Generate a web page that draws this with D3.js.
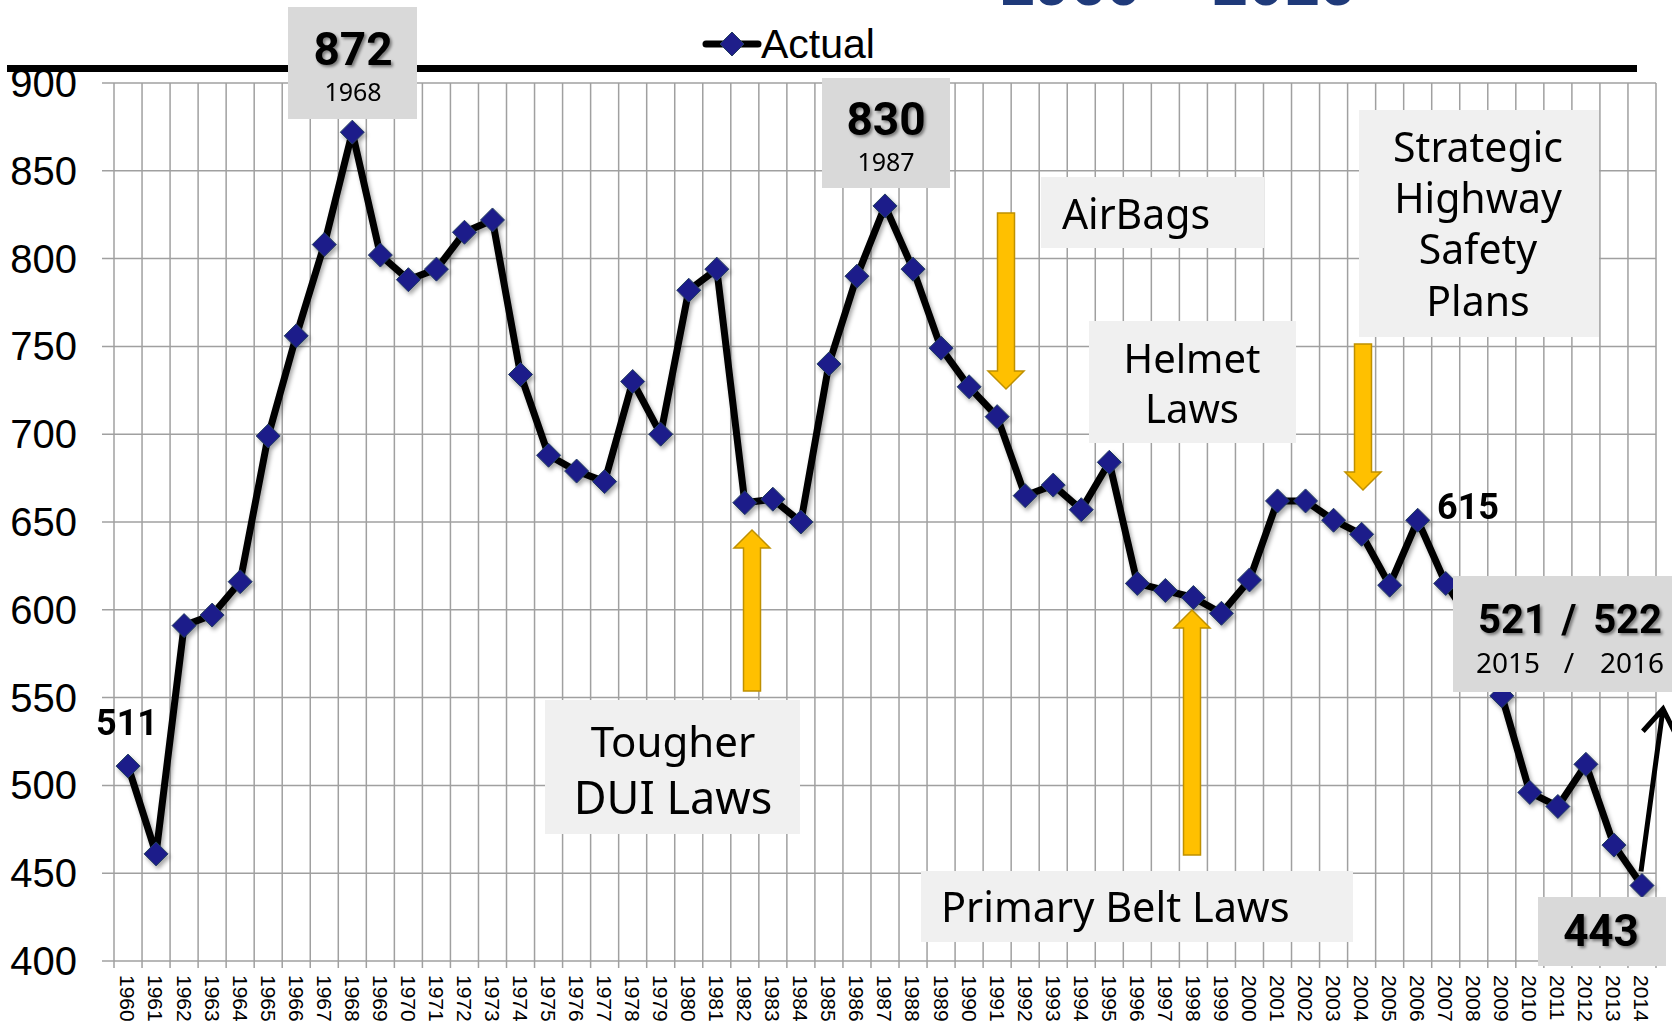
<!DOCTYPE html>
<html>
<head>
<meta charset="utf-8">
<script src="https://cdn.jsdelivr.net/npm/d3@7"></script>
<style>
  body { margin: 0; background: #fff; }
  svg { display: block; }
</style>
</head>
<body>
<div class="chart"></div>
<script>
// data
const years = [1960,1961,1962,1963,1964,1965,1966,1967,1968,1969,
    1970,1971,1972,1973,1974,1975,1976,1977,1978,1979,
    1980,1981,1982,1983,1984,1985,1986,1987,1988,1989,
    1990,1991,1992,1993,1994,1995,1996,1997,1998,1999,
    2000,2001,2002,2003,2004,2005,2006,2007,2008,2009,
    2010,2011,2012,2013,2014];
const actual = [511,461,591,597,616,699,756,808,872,802,
    788,794,815,822,734,688,679,673,730,700,
    782,794,661,663,650,740,790,830,794,749,
    727,710,665,671,657,684,615,611,607,598,
    617,662,662,651,643,614,651,615,591,551,
    496,488,512,466,443];
const yTicks = [400,450,500,550,600,650,700,750,800,850,900];

const width = 1672, height = 1024;
const plot = { left: 114, right: 1656, top: 83, bottom: 961 };

const svg = d3.select('.chart').append('svg')
    .attr('width', width)
    .attr('height', height)
    .attr('viewBox', [0, 0, width, height]);

const defs = svg.append('defs');
defs.append('filter').attr('id', 'shadow')
    .attr('x', '-20%').attr('y', '-20%').attr('width', '140%').attr('height', '140%')
    .append('feDropShadow')
    .attr('dx', 2).attr('dy', 3).attr('stdDeviation', 2)
    .attr('flood-color', '#000').attr('flood-opacity', 0.35);
defs.append('filter').attr('id', 'tshadow')
    .append('feDropShadow')
    .attr('dx', 2).attr('dy', 2).attr('stdDeviation', 1.5)
    .attr('flood-color', '#000').attr('flood-opacity', 0.45);

const x = d3.scaleBand()
    .domain(years)
    .range([plot.left, plot.right])
    .padding(0);

const y = d3.scaleLinear()
    .domain([400, 900])
    .range([plot.bottom, plot.top]);

const cx = d => x(d) + x.bandwidth() / 2;

// title (mostly cut off at the top of the picture)
svg.append('text')
    .attr('x', 1177).attr('y', 5)
    .attr('text-anchor', 'middle')
    .style('font', 'bold 64px "Liberation Sans", Arial, sans-serif')
    .attr('fill', '#1F3A7A')
    .text('1960 – 2016');

// grid
const grid = svg.append('g').attr('stroke', '#a0a0a0').attr('stroke-width', 1.5);

grid.selectAll('.hgrid')
    .data(yTicks)
    .join('line')
    .attr('x1', plot.left - 12)
    .attr('x2', plot.right)
    .attr('y1', d => y(d))
    .attr('y2', d => y(d));

grid.selectAll('.vgrid')
    .data(years.concat(['end']))
    .join('line')
    .attr('x1', d => d === 'end' ? plot.right : x(d))
    .attr('x2', d => d === 'end' ? plot.right : x(d))
    .attr('y1', plot.top)
    .attr('y2', plot.bottom + 7);

// y labels
svg.append('g')
    .selectAll('text')
    .data(yTicks)
    .join('text')
    .attr('x', 77)
    .attr('y', d => y(d) + 14)
    .attr('text-anchor', 'end')
    .style('font', '40px "Liberation Sans", Arial, sans-serif')
    .attr('fill', '#000')
    .text(d => d);

// x labels, rotated down
svg.append('g')
    .selectAll('text')
    .data(years)
    .join('text')
    .attr('transform', d => `translate(${cx(d)},975) rotate(90)`)
    .attr('dy', '0.36em')
    .style('font', '21px "Liberation Sans", Arial, sans-serif')
    .attr('fill', '#000')
    .text(d => d);

// legend + heavy rule
svg.append('line')
    .attr('x1', 7).attr('x2', 1637)
    .attr('y1', 68.5).attr('y2', 68.5)
    .attr('stroke', '#000').attr('stroke-width', 7);

const diamond = 'M0,-12L12,0L0,12L-12,0Z';

const legend = svg.append('g');
legend.append('line')
    .attr('x1', 706).attr('x2', 758)
    .attr('y1', 44).attr('y2', 44)
    .attr('stroke', '#000').attr('stroke-width', 7)
    .attr('stroke-linecap', 'round');
legend.append('path')
    .attr('d', diamond)
    .attr('transform', 'translate(732,44)')
    .attr('fill', '#1F1E8A').attr('stroke', '#243F60');
legend.append('text')
    .attr('x', 761).attr('y', 58)
    .style('font', '41px "Liberation Sans", Arial, sans-serif')
    .attr('fill', '#000')
    .text('Actual');

// the series
const line = d3.line()
    .x((d, i) => cx(years[i]))
    .y(d => y(d));

const series = svg.append('g').attr('filter', 'url(#shadow)');
series.append('path')
    .datum(actual)
    .attr('d', line)
    .attr('fill', 'none')
    .attr('stroke', '#000')
    .attr('stroke-width', 7)
    .attr('stroke-linejoin', 'round');

series.selectAll('.pt')
    .data(actual)
    .join('path')
    .attr('d', diamond)
    .attr('transform', (d, i) => `translate(${cx(years[i])},${y(d)})`)
    .attr('fill', '#1F1E8A')
    .attr('stroke', '#243F60')
    .attr('stroke-width', 1);

// arrow heading on from 2014
const a0 = [cx(2014) - 1, y(443) - 14], a1 = [1663, 709];
const ang = Math.atan2(a0[1] - a1[1], a0[0] - a1[0]);
svg.append('path')
    .attr('d', `M${a0}L${a1}M${a1[0] + 30 * Math.cos(ang - 0.6)},${a1[1] + 30 * Math.sin(ang - 0.6)}L${a1}L${a1[0] + 30 * Math.cos(ang + 0.6)},${a1[1] + 30 * Math.sin(ang + 0.6)}`)
    .attr('fill', 'none')
    .attr('stroke', '#000')
    .attr('stroke-width', 5)
    .attr('stroke-linejoin', 'miter');

// yellow block arrows
function blockArrow(xc, yTail, yTip) {
    const dir = yTip < yTail ? -1 : 1;
    const headBase = yTip - dir * 18;
    const p = [[xc - 8.5, yTail], [xc - 8.5, headBase], [xc - 18, headBase], [xc, yTip],
               [xc + 18, headBase], [xc + 8.5, headBase], [xc + 8.5, yTail]];
    svg.append('path')
        .attr('d', 'M' + p.join('L') + 'Z')
        .attr('fill', '#FFC000')
        .attr('stroke', '#BF9000')
        .attr('stroke-width', 1.5);
}
blockArrow(752, 691, 530);
blockArrow(1006, 213, 389);
blockArrow(1192, 855, 610);
blockArrow(1363, 344, 490);

// annotation boxes
const annoFont = '"Noto Sans", "Open Sans", sans-serif';
function box(x0, y0, x1, y1, fill) {
    svg.append('rect')
        .attr('x', x0).attr('y', y0)
        .attr('width', x1 - x0).attr('height', y1 - y0)
        .attr('fill', fill);
}
function label(xp, yp, txt, size, opts = {}) {
    const t = svg.append('text')
        .attr('x', xp).attr('y', yp)
        .attr('text-anchor', opts.anchor || 'middle')
        .style('font', `${opts.weight || 400} ${size}px ${opts.family || annoFont}`)
        .attr('fill', '#000')
        .text(txt);
    if (opts.shadow) t.attr('filter', 'url(#tshadow)');
    return t;
}
const bold = { weight: 700, family: 'Roboto, "Liberation Sans", sans-serif', shadow: true };

box(545, 700, 800, 834, '#f0f0f0');
label(673, 757, 'Tougher', 42);
label(673, 814, 'DUI Laws', 45);

box(1041, 177, 1264, 248, '#f0f0f0');
label(1136, 229, 'AirBags', 41);

box(1089, 321, 1296, 443, '#f0f0f0');
label(1192, 373, 'Helmet', 40);
label(1192, 423, 'Laws', 40);

box(1359, 110, 1599, 337, '#f0f0f0');
label(1478, 162, 'Strategic', 41);
label(1478, 213, 'Highway', 41);
label(1478, 264, 'Safety', 41);
label(1478, 316, 'Plans', 41);

box(921, 871, 1353, 942, '#f0f0f0');
label(941, 922, 'Primary Belt Laws', 41.5, { anchor: 'start' });

// value callouts
box(288, 7, 417, 119, '#d9d9d9');
label(353, 65, '872', 46, bold);
label(353, 101, '1968', 25);

box(822, 78, 950, 188, '#d9d9d9');
label(886, 135, '830', 46, bold);
label(886, 171, '1987', 25);

box(1538, 897, 1666, 966, '#d9d9d9');
label(1601, 946, '443', 44, bold);

box(1453, 576, 1672, 692, '#d9d9d9');
label(1478, 633, '521', 40, Object.assign({ anchor: 'start' }, bold));
label(1569, 633, '/', 40, bold);
label(1662, 633, '522', 40, Object.assign({ anchor: 'end' }, bold));
label(1476, 673, '2015', 28, { anchor: 'start' });
label(1569, 673, '/', 28);
label(1664, 673, '2016', 28, { anchor: 'end' });

label(127, 735, '511', 36, { weight: 700, family: 'Roboto, "Liberation Sans", sans-serif' });
label(1437, 519, '615', 36, { weight: 700, family: 'Roboto, "Liberation Sans", sans-serif', anchor: 'start' });
</script>
</body>
</html>
